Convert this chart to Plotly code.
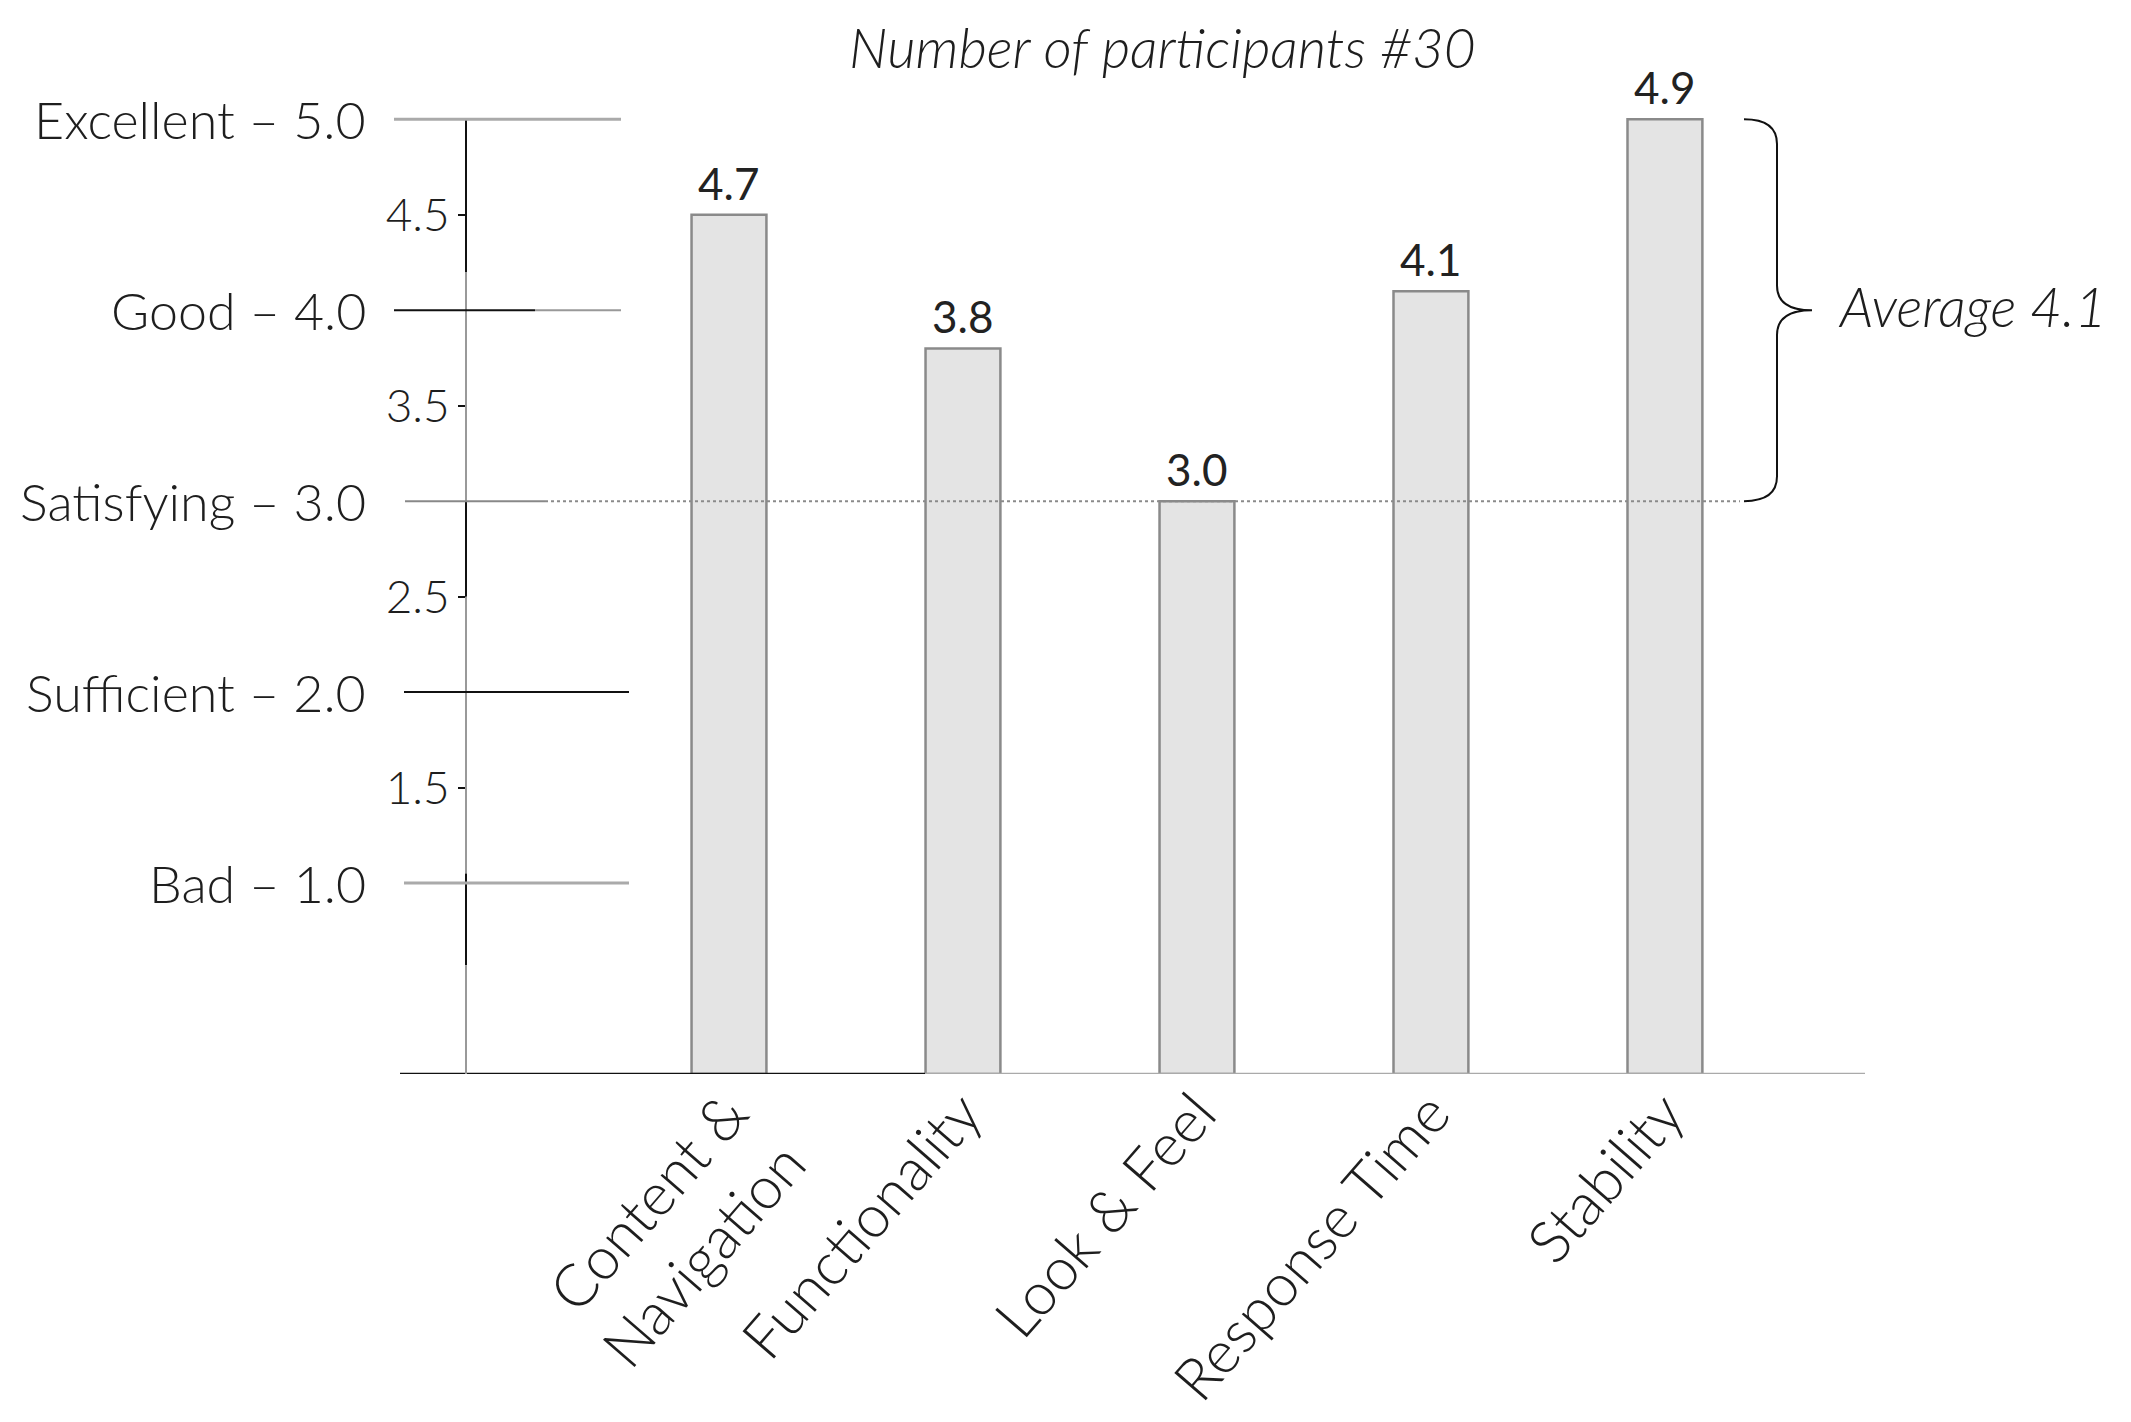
import plotly.graph_objects as go

# ---------------- data ----------------
categories = ["Content &<br>Navigation", "Functionality", "Look & Feel", "Response Time", "Stability"]
bar_heights = [4.5, 3.8, 3.0, 4.1, 5.0]          # bar heights as drawn
value_labels = ["4.7", "3.8", "3.0", "4.1", "4.9"]  # printed values
level_values = [5.0, 4.0, 3.0, 2.0, 1.0]
level_labels = ["Excellent – 5.0", "Good – 4.0", "Satisfying – 3.0", "Sufficient – 2.0", "Bad – 1.0"]
half_ticks = [4.5, 3.5, 2.5, 1.5]
half_labels = ["4.5", "3.5", "2.5", "1.5"]
title_text = "Number of participants #30"
average_text = "Average 4.1"
brace_top, brace_mid, brace_bottom = 5.0, 4.0, 3.0
reference_level = 3.0

# ---------------- layout geometry ----------------
W, H = 2131, 1422
OFF = 8  # page body margin
ML, MT = 400 - OFF, 62 - OFF
MR, MB = 266 + OFF, 348 + OFF
PW = W - ML - MR
PH = H - MT - MB


def px(x):
    # target page pixel -> paper fraction
    return (x - OFF - ML) / PW


FONT = "Lato"
TXT = "#1e1e1e"

fig = go.Figure()
fig.add_trace(go.Bar(
    x=categories, y=bar_heights, width=0.32,
    marker=dict(color="#e4e4e4", line=dict(color="#8a8a8a", width=2.5)),
    hoverinfo="skip",
))

shapes = []
# baseline (x axis)
shapes.append(dict(type="line", xref="paper", yref="y", x0=0, x1=px(925), y0=0, y1=0,
                   line=dict(color="#111", width=2.5)))
shapes.append(dict(type="line", xref="paper", yref="y", x0=px(925), x1=1, y0=0, y1=0,
                   line=dict(color="#aaa", width=2.5)))
# vertical axis in segments
axis_x = px(466)
axis_segments = [(4.2, 5.0, "#111"), (3.0, 4.2, "#999"), (2.5, 3.0, "#111"),
                 (1.05, 2.5, "#999"), (0.57, 1.05, "#111"), (0.0, 0.57, "#999")]
for y0, y1, c in axis_segments:
    shapes.append(dict(type="line", xref="paper", yref="y", x0=axis_x, x1=axis_x, y0=y0, y1=y1,
                       line=dict(color=c, width=2)))
# level lines
level_styles = {
    5.0: [(394, 621, "#aaa", 3)],
    4.0: [(394, 535, "#111", 2), (535, 621, "#999", 2)],
    3.0: [(405, 545, "#888", 2)],
    2.0: [(404, 629, "#111", 2)],
    1.0: [(404, 629, "#aaa", 3)],
}
for lv in level_values:
    for a, b, c, w in level_styles[lv]:
        shapes.append(dict(type="line", xref="paper", yref="y", x0=px(a), x1=px(b), y0=lv, y1=lv,
                           line=dict(color=c, width=w)))
# dotted reference line
shapes.append(dict(type="line", xref="paper", yref="y", x0=px(545), x1=px(1740),
                   y0=reference_level, y1=reference_level, layer="above",
                   line=dict(color="#8a8a8a", width=2, dash="dot")))
# curly brace
x0, xm, xt = px(1744), px(1777), px(1812)
r = 0.13
path = (f"M {x0},{brace_top} Q {xm},{brace_top} {xm},{brace_top - r} "
        f"L {xm},{brace_mid + r} Q {xm},{brace_mid} {xt},{brace_mid} "
        f"Q {xm},{brace_mid} {xm},{brace_mid - r} "
        f"L {xm},{brace_bottom + r} Q {xm},{brace_bottom} {x0},{brace_bottom}")
shapes.append(dict(type="path", xref="paper", yref="y", path=path,
                   line=dict(color="#111", width=2)))

annotations = []
# value labels above bars
for cat, h, lab in zip(categories, bar_heights, value_labels):
    annotations.append(dict(xref="x", yref="y", x=cat, y=h, text=lab, showarrow=False,
                            xanchor="center", yanchor="bottom", yshift=4,
                            font=dict(family=FONT, size=44, color="#222", weight=400)))
for lv, lab in zip(level_values, level_labels):
    annotations.append(dict(xref="paper", yref="y", x=px(368), y=lv, text=lab, showarrow=False,
                            xanchor="right", yanchor="middle",
                            font=dict(family=FONT, size=52, color=TXT, weight=300)))
annotations.append(dict(xref="paper", yref="paper", x=px(1162), y=1 + (62 - 47) / PH,
                        text=f"<i>{title_text}</i>", showarrow=False, xanchor="center",
                        yanchor="middle", font=dict(family=FONT, size=55, color=TXT, weight=300)))
annotations.append(dict(xref="paper", yref="y", x=px(1836), y=brace_mid + 0.02,
                        text=f"<i>{average_text}</i>",
                        showarrow=False, xanchor="left", yanchor="middle",
                        font=dict(family=FONT, size=55, color=TXT, weight=300)))

fig.update_layout(
    width=W, height=H, margin=dict(l=ML, r=MR, t=MT, b=MB, pad=0),
    paper_bgcolor="white", plot_bgcolor="white", showlegend=False,
    shapes=shapes, annotations=annotations,
    xaxis=dict(type="category", range=[-1.406, 4.855], showgrid=False, zeroline=False,
               showline=False, ticks="", tickangle=-49, ticklabelstandoff=-8,
               tickfont=dict(family=FONT, size=59, color=TXT, weight=300)),
    yaxis=dict(range=[0, 5.3], anchor="free", position=axis_x, showgrid=False, zeroline=False,
               showline=False, tickvals=half_ticks, ticktext=half_labels, ticks="outside",
               ticklen=8, tickcolor="#111", tickwidth=2, ticklabelstandoff=-1,
               tickfont=dict(family=FONT, size=46, color=TXT, weight=300)),
)

fig.write_html("out.html")
